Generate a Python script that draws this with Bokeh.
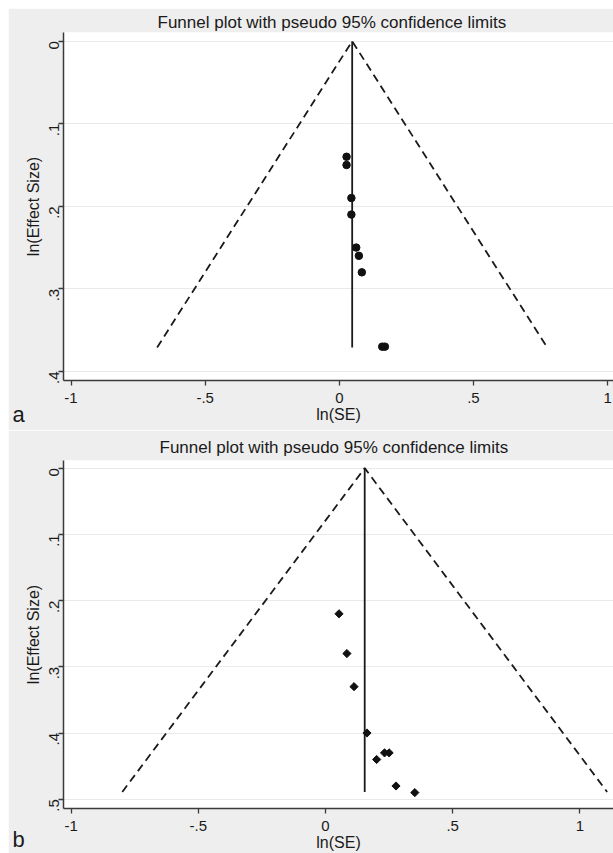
import math
from bokeh.plotting import figure
from bokeh.layouts import column
from bokeh.models import Range1d, FixedTicker, CustomJSTickFormatter, Label
from bokeh.embed import file_html
from bokeh.resources import INLINE

TITLE = "Funnel plot with pseudo 95% confidence limits"
X_LABEL = "ln(SE)"
Y_LABEL = "ln(Effect Size)"
x_ticks = [-1, -0.5, 0, 0.5, 1]
y_ticks_a = [0, 0.1, 0.2, 0.3, 0.4]
y_ticks_b = [0, 0.1, 0.2, 0.3, 0.4, 0.5]

# panel a (circles)
a_se = [0.027, 0.027, 0.045, 0.045, 0.063, 0.073, 0.084, 0.160, 0.170]
a_es = [0.14, 0.15, 0.19, 0.21, 0.25, 0.26, 0.28, 0.37, 0.37]
a_pooled = 0.048
a_funnel_x = [-0.679, 0.048, 0.775]
a_funnel_y = [0.371, 0.0, 0.371]

# panel b (diamonds)
b_se = [0.053, 0.084, 0.112, 0.163, 0.201, 0.232, 0.250, 0.277, 0.351]
b_es = [0.22, 0.28, 0.33, 0.40, 0.44, 0.43, 0.43, 0.48, 0.49]
b_pooled = 0.154
b_funnel_x = [-0.799, 0.154, 1.107]
b_funnel_y = [0.489, 0.0, 0.489]

FONT = "Liberation Sans"
fmt_code = """
var s = String(Math.round(tick*100)/100);
if (s.indexOf("0.") == 0) { s = s.substring(1); }
else if (s.indexOf("-0.") == 0) { s = "-" + s.substring(2); }
return s;
"""


def make_panel(height, xr, yr, yticks, se, es, pooled, fx, fy, marker, letter,
               border_left, border_top, border_bottom, title_offset, title_standoff,
               letter_y):
    p = figure(width=605, height=height, output_backend="svg", toolbar_location=None,
               x_range=Range1d(*xr), y_range=Range1d(*yr),
               min_border_left=border_left, min_border_right=0,
               min_border_top=border_top, min_border_bottom=border_bottom)
    p.border_fill_color = "#eeeeee"
    p.background_fill_color = "white"
    p.outline_line_color = None

    p.title.text = TITLE
    p.title.align = "left"
    p.title.offset = title_offset
    p.title.standoff = title_standoff
    p.title.text_line_height = 1.0
    p.title.text_font = FONT
    p.title.text_font_size = "17px"
    p.title.text_font_style = "normal"
    p.title.text_color = "#1a1a1a"

    p.xgrid.visible = False
    p.ygrid.grid_line_color = "#e9e9e9"
    p.ygrid.ticker = FixedTicker(ticks=yticks)

    for ax in (p.xaxis[0], p.yaxis[0]):
        ax.axis_line_color = "#3a3a3a"
        ax.axis_line_width = 1.5
        ax.major_tick_line_color = "#3a3a3a"
        ax.major_tick_line_width = 1.3
        ax.major_tick_out = 5
        ax.major_tick_in = 0
        ax.minor_tick_line_color = None
        ax.major_label_text_font = FONT
        ax.major_label_text_font_size = "15px"
        ax.major_label_text_color = "#1a1a1a"
        ax.axis_label_text_font = FONT
        ax.axis_label_text_font_size = "16px"
        ax.axis_label_text_font_style = "normal"
        ax.axis_label_text_color = "#1a1a1a"
        ax.formatter = CustomJSTickFormatter(code=fmt_code)
    p.xaxis.major_label_standoff = 7
    p.xaxis.axis_label_standoff = 0
    p.yaxis.major_label_standoff = 4
    p.yaxis.axis_label_standoff = 0

    p.xaxis.ticker = FixedTicker(ticks=x_ticks)
    p.yaxis.ticker = FixedTicker(ticks=yticks)
    p.xaxis.axis_label = X_LABEL
    p.yaxis.axis_label = Y_LABEL
    p.yaxis.major_label_orientation = math.pi / 2

    # pseudo 95% confidence limits
    p.line(fx, fy, line_color="#1a1a1a", line_width=1.8, line_dash="8 5")
    # pooled estimate
    p.line([pooled, pooled], [0, max(fy)], line_color="#1a1a1a", line_width=1.8)
    if marker == "circle":
        p.scatter(se, es, marker="circle", size=7.5, fill_color="#111111",
                  line_color="#111111")
    else:
        p.scatter(se, es, marker="square", angle=math.pi / 4, size=5.8,
                  fill_color="#111111", line_color="#111111")

    # panel letter, placed in the left side panel (not clipped by the frame)
    p.add_layout(Label(x=3, y=letter_y, x_units="screen", y_units="screen", text=letter,
                       text_font=FONT, text_font_size="22px", text_color="#1a1a1a",
                       text_baseline="alphabetic"), "left")
    return p


pa = make_panel(422, (-1.028, 1.022), (0.411, -0.0105), y_ticks_a, a_se, a_es,
                a_pooled, a_funnel_x, a_funnel_y, "circle", "a", 55, 24, 50, 94, 1, -34)
pb = make_panel(423, (-1.030, 1.132), (0.514, -0.0115), y_ticks_b, b_se, b_es,
                b_pooled, b_funnel_x, b_funnel_y, "diamond", "b", 52, 30, 45, 96, 7, -31)

layout = column(pa, pb, margin=(8, 0, 0, 8))
open("out.html", "w").write(file_html(layout, INLINE))
